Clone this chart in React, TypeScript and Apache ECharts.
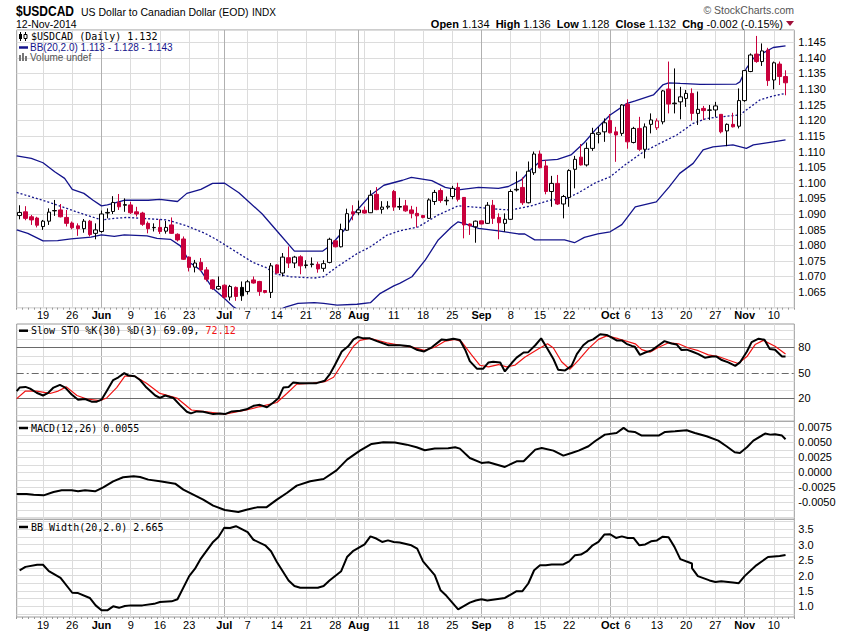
import { useEffect, useRef } from 'react'
import * as echarts from 'echarts'

// daily candles, 13-May-2014 .. 12-Nov-2014 (index 0 .. 131)
const opens = [
  1.0895, 1.0907, 1.0891, 1.0887, 1.0860, 1.0877, 1.0911, 1.0913, 1.0889, 1.0871,
  1.0862, 1.0853, 1.0877, 1.0838, 1.0844, 1.0903, 1.0908, 1.0937, 1.0928, 1.0929,
  1.0907, 1.0903, 1.0870, 1.0856, 1.0857, 1.0845, 1.0865, 1.0835, 1.0820, 1.0762,
  1.0730, 1.0745, 1.0721, 1.0689, 1.0660, 1.0672, 1.0634, 1.0665, 1.0665, 1.0652,
  1.0689, 1.0684, 1.0655, 1.0649, 1.0737, 1.0711, 1.0760, 1.0743, 1.0763, 1.0735,
  1.0738, 1.0739, 1.0726, 1.0745, 1.0814, 1.0795, 1.0848, 1.0907, 1.0904, 1.0912,
  1.0904, 1.0963, 1.0915, 1.0922, 1.0972, 1.0922, 1.0926, 1.0913, 1.0902, 1.0895,
  1.0886, 1.0940, 1.0975, 1.0942, 1.0956, 1.0985, 1.0953, 1.0868, 1.0859, 1.0878,
  1.0870, 1.0928, 1.0889, 1.0870, 1.0883, 1.0977, 1.0985, 1.0936, 1.1032, 1.1092,
  1.1054, 1.0972, 1.0998, 1.0932, 1.0953, 1.1043, 1.1082, 1.1057, 1.1110, 1.1155,
  1.1163, 1.1199, 1.1163, 1.1158, 1.1252, 1.1129, 1.1174, 1.1107, 1.1187, 1.1176,
  1.1195, 1.1300, 1.1253, 1.1259, 1.1270, 1.1286, 1.1222, 1.1238, 1.1232, 1.1233,
  1.1219, 1.1166, 1.1187, 1.1181, 1.1263, 1.1356, 1.1412, 1.1388, 1.1425, 1.1329,
  1.1380, 1.1340,
]
const highs = [
  1.0928, 1.0925, 1.0897, 1.0891, 1.0881, 1.0918, 1.0945, 1.0932, 1.0913, 1.0876,
  1.0870, 1.0884, 1.0881, 1.0870, 1.0911, 1.0918, 1.0957, 1.0964, 1.0950, 1.0939,
  1.0923, 1.0907, 1.0876, 1.0870, 1.0883, 1.0878, 1.0889, 1.0838, 1.0828, 1.0764,
  1.0753, 1.0759, 1.0730, 1.0691, 1.0700, 1.0675, 1.0673, 1.0668, 1.0684, 1.0689,
  1.0700, 1.0686, 1.0656, 1.0743, 1.0739, 1.0775, 1.0796, 1.0766, 1.0768, 1.0752,
  1.0761, 1.0747, 1.0752, 1.0824, 1.0815, 1.0869, 1.0917, 1.0928, 1.0943, 1.0924,
  1.0976, 1.0986, 1.0941, 1.0941, 1.0977, 1.0952, 1.0945, 1.0926, 1.0923, 1.0897,
  1.0950, 1.0977, 1.0982, 1.0956, 1.0990, 1.1000, 1.0953, 1.0870, 1.0879, 1.0879,
  1.0938, 1.0945, 1.0902, 1.0902, 1.0979, 1.1036, 1.1017, 1.1068, 1.1100, 1.1103,
  1.1073, 1.1022, 1.1025, 1.0961, 1.1043, 1.1086, 1.1124, 1.1129, 1.1176, 1.1179,
  1.1206, 1.1220, 1.1179, 1.1252, 1.1267, 1.1179, 1.1211, 1.1190, 1.1222, 1.1206,
  1.1297, 1.1388, 1.1366, 1.1307, 1.1297, 1.1302, 1.1292, 1.1246, 1.1249, 1.1259,
  1.1219, 1.1190, 1.1224, 1.1302, 1.1361, 1.1414, 1.1470, 1.1446, 1.1432, 1.1388,
  1.1388, 1.1360,
]
const lows = [
  1.0883, 1.0880, 1.0865, 1.0857, 1.0849, 1.0865, 1.0894, 1.0889, 1.0860, 1.0851,
  1.0830, 1.0840, 1.0828, 1.0819, 1.0840, 1.0886, 1.0900, 1.0913, 1.0907, 1.0900,
  1.0892, 1.0862, 1.0838, 1.0844, 1.0836, 1.0837, 1.0836, 1.0812, 1.0753, 1.0716,
  1.0713, 1.0717, 1.0684, 1.0657, 1.0657, 1.0628, 1.0623, 1.0622, 1.0622, 1.0642,
  1.0677, 1.0638, 1.0646, 1.0631, 1.0709, 1.0700, 1.0727, 1.0727, 1.0707, 1.0726,
  1.0729, 1.0712, 1.0715, 1.0742, 1.0793, 1.0793, 1.0846, 1.0880, 1.0896, 1.0901,
  1.0903, 1.0912, 1.0901, 1.0915, 1.0910, 1.0913, 1.0907, 1.0886, 1.0857, 1.0886,
  1.0884, 1.0929, 1.0936, 1.0928, 1.0947, 1.0940, 1.0822, 1.0833, 1.0808, 1.0867,
  1.0868, 1.0868, 1.0819, 1.0843, 1.0881, 1.0972, 1.0929, 1.0934, 1.1025, 1.1046,
  1.0963, 1.0923, 1.0929, 1.0886, 1.0923, 1.0982, 1.1055, 1.1052, 1.1102, 1.1126,
  1.1131, 1.1158, 1.1067, 1.1150, 1.1109, 1.1126, 1.1102, 1.1078, 1.1158, 1.1169,
  1.1187, 1.1222, 1.1222, 1.1203, 1.1243, 1.1199, 1.1185, 1.1201, 1.1201, 1.1211,
  1.1158, 1.1117, 1.1177, 1.1174, 1.1259, 1.1354, 1.1384, 1.1374, 1.1310, 1.1299,
  1.1313, 1.1280,
]
const closes = [
  1.0905, 1.0886, 1.0881, 1.0864, 1.0877, 1.0906, 1.0910, 1.0891, 1.0870, 1.0856,
  1.0853, 1.0877, 1.0834, 1.0849, 1.0900, 1.0905, 1.0937, 1.0923, 1.0930, 1.0904,
  1.0900, 1.0867, 1.0853, 1.0857, 1.0844, 1.0857, 1.0838, 1.0817, 1.0755, 1.0729,
  1.0743, 1.0721, 1.0691, 1.0661, 1.0668, 1.0634, 1.0668, 1.0636, 1.0638, 1.0683,
  1.0679, 1.0652, 1.0649, 1.0734, 1.0711, 1.0762, 1.0743, 1.0762, 1.0734, 1.0737,
  1.0740, 1.0724, 1.0741, 1.0819, 1.0795, 1.0850, 1.0901, 1.0900, 1.0913, 1.0903,
  1.0960, 1.0914, 1.0922, 1.0925, 1.0922, 1.0924, 1.0910, 1.0902, 1.0894, 1.0889,
  1.0945, 1.0969, 1.0943, 1.0944, 1.0982, 1.0947, 1.0865, 1.0862, 1.0877, 1.0868,
  1.0928, 1.0886, 1.0872, 1.0883, 1.0972, 1.0979, 1.0936, 1.1037, 1.1092, 1.1048,
  1.0972, 1.0998, 1.0932, 1.0956, 1.1039, 1.1075, 1.1057, 1.1110, 1.1158, 1.1160,
  1.1192, 1.1160, 1.1153, 1.1249, 1.1131, 1.1174, 1.1107, 1.1179, 1.1201, 1.1198,
  1.1294, 1.1252, 1.1255, 1.1275, 1.1286, 1.1222, 1.1235, 1.1231, 1.1233, 1.1246,
  1.1163, 1.1187, 1.1179, 1.1263, 1.1359, 1.1409, 1.1388, 1.1422, 1.1327, 1.1384,
  1.1340, 1.1320,
]

// date axis
const tickIdx = [4, 9, 14, 19, 24, 29, 35, 39, 44, 49, 54, 58, 64, 69, 74, 79, 84, 89, 94, 101, 104, 109, 114, 119, 124, 129]
const tickText = ['19', '26', 'Jun', '9', '16', '23', 'Jul', '7', '14', '21', '28', 'Aug', '11', '18', '25', 'Sep', '8', '15', '22', 'Oct', '6', '13', '20', '27', 'Nov', '10']
const monthNames = ['Jun', 'Jul', 'Aug', 'Sep', 'Oct', 'Nov']
const weekLines = [4, 9, 14, 19, 24, 29, 34, 39, 44, 49, 54, 59, 64, 69, 74, 79, 84, 89, 94, 99, 104, 109, 114, 119, 124, 129]
const monthLines = [14, 35, 58, 79, 101, 124]

// overlays / indicators, [day index, value]
const bbUpper = [
  [-0.5, 1.1086], [2, 1.1078], [4, 1.1064], [6, 1.1035], [7.7, 1.1014], [9, 1.0979], [11, 1.0966], [12.5, 1.0945],
  [14, 1.0926], [15, 1.0929], [16, 1.0934], [18, 1.0944], [22, 1.0944], [24, 1.0947], [27, 1.094], [28.6, 1.0966],
  [31, 1.0979], [33, 1.0998], [35, 1.0999], [37.5, 1.0968], [41.5, 1.09], [44.5, 1.0835], [47, 1.0781], [51.8, 1.0781],
  [53.2, 1.08], [55.5, 1.0848], [57.2, 1.0901], [60, 1.096], [62.3, 1.0992], [65.5, 1.1008], [67, 1.1017], [70.5, 1.1007],
  [72.8, 1.0985], [75, 1.0977], [78.5, 1.0985], [81.9, 1.0982], [83.6, 1.0988], [85.8, 1.1009], [87.5, 1.1043], [89.2, 1.1071],
  [92, 1.1075], [94.3, 1.1089], [96.6, 1.1129], [98.5, 1.117], [101, 1.1217], [103.9, 1.1254], [105.3, 1.1262], [108.4, 1.1281],
  [110, 1.1313], [111, 1.132], [113, 1.1318], [116.4, 1.1315], [122.6, 1.1316], [123.2, 1.1323], [124.3, 1.1366], [125.5, 1.1398],
  [127.2, 1.1416], [128.9, 1.1433], [131, 1.1438],
]
const bbMid = [
  [-0.5, 1.0969], [4.8, 1.0939], [10.5, 1.0902], [14, 1.0881], [16.2, 1.0886], [18.4, 1.0889], [21.8, 1.0885], [25.2, 1.0881],
  [28.6, 1.0862], [31.6, 1.0839], [33.6, 1.0819], [36.5, 1.0785], [39.9, 1.0745], [42.1, 1.0729], [43.8, 1.0708], [46.4, 1.0699],
  [50.4, 1.0695], [52, 1.0699], [54.3, 1.0731], [57.7, 1.0773], [60, 1.0795], [62.8, 1.0832], [65, 1.0846], [68.2, 1.0859],
  [71.6, 1.0897], [75, 1.0926], [78.5, 1.0921], [81.9, 1.0915], [84.1, 1.0913], [87.5, 1.0926], [90.9, 1.0945], [93.2, 1.0947],
  [95.4, 1.0966], [98.5, 1.1], [101, 1.1019], [103.9, 1.1062], [106.7, 1.1099], [109.5, 1.1126], [112.4, 1.1153], [115.2, 1.119],
  [117.5, 1.1206], [120.9, 1.1213], [123.2, 1.1217], [124.3, 1.1233], [126.6, 1.1265], [128.9, 1.1278], [131, 1.1286],
]
const bbLower = [
  [-0.5, 1.0849], [1.4, 1.0838], [4, 1.0814], [6.5, 1.0815], [8.8, 1.082], [12.2, 1.0826], [14, 1.0833], [16.2, 1.0828],
  [17.9, 1.0833], [21.8, 1.083], [23.5, 1.0822], [25.8, 1.0819], [27.5, 1.0798], [29.2, 1.0743], [30.9, 1.0721], [33, 1.0663],
  [35, 1.063], [36.5, 1.0604], [38, 1.0585], [41, 1.057], [43.5, 1.0585], [45.6, 1.0603], [47.6, 1.0614], [50.4, 1.0616],
  [52, 1.0614], [54.3, 1.0608], [57.7, 1.0611], [60, 1.0616], [61.7, 1.0646], [64, 1.067], [65, 1.0678], [67.1, 1.0699],
  [69.4, 1.0753], [71.6, 1.0817], [73.9, 1.0859], [75, 1.0875], [76.2, 1.0868], [78.5, 1.0854], [81.9, 1.0846], [85.3, 1.0836],
  [86.4, 1.0836], [88.1, 1.0817], [93.2, 1.0817], [94.9, 1.0808], [96.6, 1.0825], [98.9, 1.0836], [101, 1.0843], [103, 1.0866],
  [105.3, 1.0923], [108.9, 1.0939], [111.1, 1.0987], [112.9, 1.103], [115.2, 1.1062], [116.9, 1.1105], [118.6, 1.1115], [122, 1.1121],
  [124.3, 1.111], [125.5, 1.1121], [127.2, 1.1126], [128.9, 1.1131], [131, 1.1137],
]
const stoK = [
  [-0.5, 28.5], [0, 32.6], [1, 33.4], [1.8, 31.4], [2.9, 26.5], [4, 23.3], [4.9, 26.5], [5.8, 32.6], [6.9, 35.8], [7.8, 32.6],
  [8.9, 24.5], [10, 18.4], [11.2, 19.2], [12.3, 16], [13.2, 16], [14, 18.4], [14.9, 28.5], [16, 41.5], [16.9, 44.7], [17.9, 49.6],
  [18.6, 46.8], [19.7, 46], [20.6, 41.5], [21.7, 32.6], [23.2, 23.3], [24, 20.4], [24.9, 23.3], [26.3, 20.4], [27.4, 12.3], [28.6, 4.2],
  [29.3, 2.2], [30.3, 4.6], [31.4, 4.2], [33.1, 1.4], [34.3, 2.2], [35.1, 1.4], [36.3, 4.6], [37.7, 5.4], [38.8, 7], [40, 11.1],
  [41.1, 12.3], [42.3, 9.5], [43.4, 15.1], [44.3, 20.4], [45.1, 32.6], [46, 33.4], [46.8, 38.7], [47.9, 37.8], [50.8, 37.8], [52.2, 40.7],
  [53.1, 48.8], [53.9, 58.9], [55.1, 75.1], [56.2, 81.2], [57.1, 89.3], [57.9, 92.2], [58.8, 90.5], [59.9, 90.5], [61.1, 87.3], [63.1, 82.4],
  [65.1, 82.4], [66.8, 81.2], [67.9, 77.2], [69.2, 75.1], [70.5, 80], [72.2, 89.3], [73, 88.5], [74.2, 90.1], [75.3, 88.5], [76.2, 77.2],
  [77, 63.8], [78.2, 54.9], [79.3, 54.9], [80.2, 62.2], [81, 63], [82.2, 62.2], [83, 51.6], [84.2, 61.8], [85, 67.8], [86.2, 73.9],
  [87, 74.3], [88.2, 82.4], [89.2, 90.5], [90.2, 79.2], [91.3, 66.2], [92.1, 53.7], [93.3, 52.8], [94.4, 58.1], [95.3, 71.9], [96.4, 82.4],
  [97.3, 87.3], [98.1, 89.3], [99.3, 95.4], [100.4, 94.6], [101.3, 91.4], [102.1, 88.1], [103, 88.1], [103.8, 84.1], [104.7, 81.6], [105.2, 80.8],
  [106.1, 71.1], [107, 73.9], [108.1, 76.4], [109.3, 82.4], [110.3, 87.3], [111.5, 84.5], [112.4, 83.2], [113.2, 76.8], [114.1, 77.2], [115, 75.1],
  [116.1, 71.9], [117.2, 67.8], [118.4, 69.1], [119.2, 69.1], [120.1, 65], [121.2, 62.2], [122.4, 58.1], [123.2, 62.2], [124.4, 75.1], [125.2, 86.1],
  [126.4, 90.1], [127.4, 88.9], [128.3, 78], [129.2, 77.2], [130.4, 69.1], [131, 69.09],
]
const stoD = [
  [-0.5, 19.6], [1, 28.5], [2.9, 28.5], [5.2, 25.7], [6.6, 28.5], [8, 33.4], [9.8, 23.3], [11.5, 19.2], [13.7, 17.2], [14.9, 20.4],
  [16.6, 32.6], [18, 46], [19.7, 46], [21.7, 37.8], [24, 25.7], [26.9, 20.4], [29.4, 6.2], [32, 4.2], [35.1, 1.4], [38.8, 6.2],
  [41.1, 10.3], [44, 15.1], [45.7, 25.7], [47.4, 36.6], [50.2, 37.8], [52.2, 39.5], [53.7, 44.7], [55.4, 63], [57.1, 81.2], [58.2, 88.1],
  [59.9, 90.5], [62.8, 85.3], [65.1, 82.4], [67.3, 80], [69.2, 76.4], [71, 80], [72.8, 87.3], [74.5, 89.3], [75.6, 86.5], [77.3, 71.1],
  [78.7, 58.9], [80.2, 56.9], [81.9, 59.7], [83.3, 56.9], [84.7, 58.9], [86.4, 68.3], [88.7, 78], [90.3, 84.1], [91.3, 79.2], [92.7, 63],
  [94.1, 54.1], [95.6, 65], [97.3, 78.4], [99, 89.3], [100.4, 93.4], [102.4, 90.1], [105.3, 84.1], [106.4, 77.2], [107.8, 74.3], [109.3, 80],
  [111, 85.3], [112.7, 84.1], [114.4, 79.2], [116.1, 76], [117.8, 71.1], [119.5, 69.1], [121.2, 65], [122.9, 61], [124.4, 69.1], [125.8, 83.2],
  [127.2, 88.1], [129.2, 81.2], [131, 72.12],
]
const macd = [
  [-0.5, -0.00361], [1.2, -0.00361], [2.4, -0.00372], [4.1, -0.00384], [5.8, -0.00328], [7.2, -0.003], [8.9, -0.003], [10, -0.00317],
  [11.2, -0.003], [12.9, -0.00317], [14.3, -0.0025], [16, -0.0015], [17.7, -0.00083], [19.5, -0.00067], [20.6, -0.00078], [22, -0.00122],
  [24, -0.0015], [26.6, -0.00189], [28, -0.00289], [29.7, -0.00372], [31.4, -0.00456], [33.1, -0.00556], [35.1, -0.00628], [37.4, -0.00662],
  [38.8, -0.00623], [40.6, -0.00584], [42.2, -0.00584], [44, -0.00456], [45.7, -0.00345], [47.4, -0.00222], [49.7, -0.0015], [52, -0.00111],
  [54.2, 0.00033], [56, 0.00211], [58.2, 0.00361], [60.2, 0.00473], [62.2, 0.005], [64.2, 0.00495], [66.2, 0.00461], [67.9, 0.00417],
  [69.3, 0.00367], [71, 0.00395], [73.3, 0.004], [74.5, 0.00417], [75.3, 0.00395], [77, 0.00239], [79, 0.00156], [80.2, 0.00167],
  [83, 0.00089], [85, 0.00183], [86.2, 0.00183], [88.2, 0.00378], [89.3, 0.00406], [91.3, 0.00361], [93, 0.00278], [94.4, 0.00322],
  [95.6, 0.00361], [97.3, 0.00434], [98.4, 0.00517], [100.1, 0.00628], [102.1, 0.00656], [103.3, 0.0074], [104.1, 0.00684], [105.2, 0.00673],
  [106.4, 0.00612], [109.3, 0.00612], [110.4, 0.00673], [112.1, 0.00684], [114.1, 0.007], [115.5, 0.00656], [117.5, 0.006], [119.5, 0.00528],
  [120.9, 0.00434], [122.3, 0.00334], [123.2, 0.00322], [124.4, 0.00417], [125.5, 0.00528], [127.5, 0.00645], [128.4, 0.00628], [129.2, 0.00634],
  [130.4, 0.00612], [131, 0.0055],
]
const bbWidth = [
  [-0.5, 2.17], [1.2, 2.28], [2.9, 2.35], [3.8, 2.35], [5.2, 2.14], [6.9, 1.92], [8.9, 1.44], [10, 1.43], [11.8, 1.27], [12.9, 1.03],
  [13.7, 0.87], [14.9, 0.87], [15.8, 1.0], [16.9, 0.95], [18, 1.01], [18.9, 1.03], [21.2, 1.03], [22.9, 1.08], [24, 1.14], [25.7, 1.16],
  [26.9, 1.23], [29.1, 1.98], [30.3, 2.22], [31.4, 2.55], [33.1, 3.07], [34, 3.25], [35, 3.55], [36, 3.54], [37.1, 3.6], [38.8, 3.41],
  [40, 3.16], [41.7, 2.98], [42.8, 2.79], [44.3, 2.44], [46, 1.84], [46.8, 1.66], [48, 1.6], [51.4, 1.6], [52.2, 1.66], [53.1, 1.84],
  [54.8, 2.14], [56.2, 2.6], [57.4, 2.79], [58.8, 3.01], [60.2, 3.27], [61.1, 3.2], [61.9, 3.09], [63.1, 3.14], [63.9, 3.09], [65.1, 3.07],
  [66.5, 2.98], [67.6, 2.87], [69.3, 2.46], [71, 2.01], [72.2, 1.52], [73.3, 1.34], [74.2, 1.12], [75.2, 0.9], [76.5, 1.12], [77.9, 1.19],
  [79.3, 1.23], [80.3, 1.19], [82.9, 1.27], [84.2, 1.38], [85.3, 1.49], [86.4, 1.49], [87.3, 1.74], [88.2, 2.17], [89.3, 2.33], [90.4, 2.33],
  [91.3, 2.36], [93, 2.36], [94.1, 2.46], [95.3, 2.66], [96.1, 2.68], [97.3, 2.79], [98.1, 2.98], [99.3, 3.09], [100.1, 3.33], [100.9, 3.34],
  [102.4, 3.22], [103.3, 3.27], [104.4, 3.22], [105.3, 3.22], [106.2, 2.98], [107.3, 3.01], [108.1, 3.11], [109.3, 3.14], [110.4, 3.26], [111.2, 3.24],
  [112.1, 2.93], [113.2, 2.53], [114.7, 2.39], [115.2, 2.24], [116.4, 1.98], [117.5, 1.84], [119.2, 1.79], [120.1, 1.81], [121.5, 1.77], [123.2, 1.75],
  [124.4, 1.98], [125.5, 2.33], [126.3, 2.33], [127.5, 2.6], [128.3, 2.6], [129.8, 2.63], [131, 2.665],
]

// panel scales
const stoLines = [0, 10, 30, 40, 60, 70, 90, 100]
const stoLabels = ['80', '50', '20']
const macdLines = [-0.0075, -0.00625, -0.00375, -0.00125, 0.00125, 0.00375, 0.00625]
const macdLabels = [0.0075, 0.005, 0.0025, 0, -0.0025, -0.005]
const bbwLines = [0.75, 1.25, 1.75, 2.25, 2.75, 3.25, 3.75]
const bbwLabels = [3.5, 3.0, 2.5, 2.0, 1.5, 1.0]

const RED = '#c8003c'
const NAVY = '#14148c'
const GRID = '#dcdcdc'
const MONTH = '#b0b0b0'
const BORDER = '#9a9a9a'
const SANS = '"Liberation Sans", Arial, sans-serif'
const MONO = '"DejaVu Sans Mono", monospace'
const N = 133
const L = 16.7
const W = 777.6

function App() {
  const chartRef = useRef<HTMLDivElement>(null)

  useEffect(() => {
    if (!chartRef.current) return
    document.body.style.margin = '0'
    const chart = echarts.init(chartRef.current, null, { renderer: 'svg' })

    const cats = Array.from({ length: N }, (_, i) => String(i))
    const tickFmt = (_: string, i: number) => {
      const k = tickIdx.indexOf(i)
      if (k < 0) return ''
      const s = tickText[k]
      return monthNames.includes(s) ? `{m|${s}}` : s
    }

    const candles = opens.map((o, i) => {
      const c = closes[i]
      const red = i > 0 && c < closes[i - 1]
      const edge = red ? RED : '#000'
      const fill = c > o ? '#fff' : edge
      return {
        value: [o, c, lows[i], highs[i]],
        itemStyle: { color: fill, color0: fill, borderColor: edge, borderColor0: edge, borderWidth: 1 },
      }
    })

    const vLines = [
      ...weekLines.filter((x) => !monthLines.includes(x)).map((x) => ({ xAxis: x, lineStyle: { color: GRID, width: 1, type: 'solid' } })),
      ...monthLines.map((x) => ({ xAxis: x, lineStyle: { color: MONTH, width: 1, type: 'solid' } })),
    ]
    const hLine = (v: number, color: string, label?: string, type: any = 'solid') => ({
      yAxis: v,
      lineStyle: { color, width: 1, type },
      label: label
        ? { show: true, position: 'end', formatter: label, color: '#000', fontSize: 11, fontFamily: SANS, distance: 4 }
        : { show: false },
    })
    // panel p: value x axis p + 1, y axis p
    const layer = (p: number, h: any[]) => ({
      type: 'line',
      xAxisIndex: p + 1,
      yAxisIndex: p,
      data: [],
      z: 1,
      silent: true,
      markLine: {
        silent: true,
        symbol: ['none', 'none'],
        precision: 6,
        z: 1,
        animation: false,
        label: { show: false },
        data: [...vLines, ...h],
      },
    })
    const trace = (p: number, data: number[][], color: string, width: number, type: any = 'solid') => ({
      type: 'line',
      xAxisIndex: p + 1,
      yAxisIndex: p,
      data,
      showSymbol: false,
      symbol: 'none',
      silent: true,
      z: 3,
      lineStyle: { color, width, type },
    })

    const catAxis = (gridIndex: number) => ({
      type: 'category',
      gridIndex,
      position: 'bottom',
      data: cats,
      boundaryGap: true,
      axisLine: { show: false },
      axisTick: { show: true, interval: 0, length: 2, lineStyle: { color: '#999' } },
      axisLabel: {
        interval: 0,
        formatter: tickFmt,
        fontSize: 11,
        fontFamily: SANS,
        color: '#000',
        margin: 2,
        rich: { m: { fontWeight: 'bold', fontSize: 11, fontFamily: SANS } },
      },
      splitLine: { show: false },
    })
    const valAxis = (gridIndex: number) => ({ type: 'value', gridIndex, position: 'bottom', min: -0.5, max: N - 0.5, show: false })
    const hiddenY = (gridIndex: number, min: number, max: number) => ({
      type: 'value',
      gridIndex,
      min,
      max,
      position: 'right',
      axisLine: { show: false },
      axisTick: { show: false },
      axisLabel: { show: false },
      splitLine: { show: false },
    })

    const txt = (x: number, y: number, text: string, font: string, fill = '#000', align = 'left') => ({
      type: 'text',
      x,
      y,
      z: 100,
      silent: true,
      style: { text, font, fill, align, textAlign: align, verticalAlign: 'middle', textVerticalAlign: 'middle' },
    })
    const dash = (y: number, color: string) => ({
      type: 'line',
      z: 100,
      shape: { x1: 19, y1: y, x2: 28, y2: y },
      style: { stroke: color, lineWidth: 2.5 },
    })

    const option = {
      animation: false,
      backgroundColor: '#fff',
      grid: [
        { left: L, top: 30, width: W, height: 277.7 },
        { left: L, top: 324, width: W, height: 97.3 },
        { left: L, top: 421.3, width: W, height: 98 },
        { left: L, top: 519.3, width: W, height: 97.7 },
      ].map((g) => ({ ...g, show: true, borderColor: BORDER, borderWidth: 1, backgroundColor: '#fff' })),
      xAxis: [catAxis(0), valAxis(0), valAxis(1), valAxis(2), catAxis(3), valAxis(3)],
      yAxis: [
        {
          type: 'value',
          gridIndex: 0,
          position: 'right',
          min: 1.06,
          max: 1.1489,
          interval: 0.005,
          axisLine: { show: false },
          axisTick: { show: false },
          axisLabel: {
            margin: 4,
            fontSize: 11,
            fontFamily: SANS,
            color: '#000',
            formatter: (v: number) => (v > 1.0625 && v < 1.1475 ? v.toFixed(3) : ''),
          },
          splitLine: { show: true, lineStyle: { color: GRID, width: 1 } },
        },
        hiddenY(1, -7.06, 107.4),
        hiddenY(2, -0.00783, 0.0085),
        hiddenY(3, 0.6526, 3.8247),
      ],
      series: [
        layer(0, []),
        layer(1, [
          ...stoLines.map((v) => hLine(v, GRID)),
          hLine(80, '#6a6a6a', stoLabels[0]),
          hLine(50, '#6a6a6a', stoLabels[1], [7, 3, 2, 3]),
          hLine(20, '#6a6a6a', stoLabels[2]),
        ]),
        layer(2, [
          ...macdLines.map((v) => hLine(v, GRID)),
          ...macdLabels.map((v) => hLine(v, GRID, v.toFixed(4))),
        ]),
        layer(3, [
          ...bbwLines.map((v) => hLine(v, GRID)),
          ...bbwLabels.map((v) => hLine(v, GRID, v.toFixed(1))),
        ]),
        {
          type: 'candlestick',
          xAxisIndex: 0,
          yAxisIndex: 0,
          barWidth: 4,
          z: 4,
          silent: true,
          data: candles,
        },
        trace(0, bbUpper, NAVY, 1.3),
        trace(0, bbMid, NAVY, 1.3, [2, 2]),
        trace(0, bbLower, NAVY, 1.3),
        trace(1, stoD, '#f01414', 1.2),
        trace(1, stoK, '#000', 2),
        trace(2, macd, '#000', 2),
        trace(3, bbWidth, '#000', 2),
      ],
      graphic: [
        { ...txt(16, 11, '$USDCAD', `bold 15px ${SANS}`), scaleX: 0.8 },
        txt(81, 12, 'US Dollar to Canadian Dollar (EOD)', `10.5px ${SANS}`),
        txt(252, 12, 'INDX', `10px ${SANS}`),
        txt(16, 23.5, '12-Nov-2014', `10.5px ${SANS}`),
        txt(794, 10, '\u00a9 StockCharts.com', `10.5px ${SANS}`, '#555', 'right'),
        {
          type: 'text',
          x: 783,
          y: 23.5,
          z: 100,
          style: {
            text: '{b|Open} 1.134  {b|High} 1.136  {b|Low} 1.128  {b|Close} 1.132  {b|Chg} -0.002 (-0.15%)',
            font: `11px ${SANS}`,
            fill: '#000',
            align: 'right',
            textAlign: 'right',
            verticalAlign: 'middle',
            textVerticalAlign: 'middle',
            rich: { b: { font: `bold 11px ${SANS}`, fill: '#000' } },
          },
        },
        { type: 'polygon', z: 100, shape: { points: [[786, 21], [794, 21], [790, 26]] }, style: { fill: '#a0103a' } },
        // price legend
        { type: 'line', z: 100, shape: { x1: 20.5, y1: 32, x2: 20.5, y2: 41 }, style: { stroke: '#000', lineWidth: 1 } },
        { type: 'rect', z: 100, shape: { x: 19, y: 34, width: 3, height: 5 }, style: { fill: '#000' } },
        { type: 'line', z: 100, shape: { x1: 25.5, y1: 32, x2: 25.5, y2: 41 }, style: { stroke: '#000', lineWidth: 1 } },
        { type: 'rect', z: 101, shape: { x: 24, y: 34.5, width: 3, height: 4 }, style: { fill: '#fff', stroke: '#000', lineWidth: 1 } },
        txt(31, 36.5, '$USDCAD (Daily) 1.132', `10px ${MONO}`),
        dash(47.5, NAVY),
        txt(30, 47.5, 'BB(20,2.0) 1.113 - 1.128 - 1.143', `10px ${SANS}`, NAVY),
        { type: 'rect', z: 100, shape: { x: 19, y: 55, width: 2, height: 6 }, style: { fill: '#777' } },
        { type: 'rect', z: 100, shape: { x: 22, y: 53, width: 2, height: 8 }, style: { fill: '#777' } },
        { type: 'rect', z: 100, shape: { x: 25, y: 56, width: 2, height: 5 }, style: { fill: '#777' } },
        txt(30, 57.5, 'Volume undef', `10px ${SANS}`, '#555'),
        // indicator legends
        dash(330.7, '#000'),
        {
          type: 'text',
          x: 31,
          y: 330.7,
          z: 100,
          style: {
            text: '{k|Slow STO %K(30) %D(3) 69.09, }{r|72.12}',
            font: `10px ${MONO}`,
            fill: '#000',
            verticalAlign: 'middle',
            textVerticalAlign: 'middle',
            rich: {
              k: { font: `10px ${MONO}`, fill: '#000', color: '#000' },
              r: { font: `10px ${MONO}`, fill: '#f01414', color: '#f01414' },
            },
          },
        },
        dash(428, '#000'),
        txt(31, 428, 'MACD(12,26) 0.0055', `10px ${MONO}`),
        dash(527, '#000'),
        txt(31, 527, 'BB Width(20,2.0) 2.665', `10px ${MONO}`),
      ],
    }

    chart.setOption(option as any)
    return () => {
      chart.dispose()
    }
  }, [])

  return <div ref={chartRef} style={{ position: 'absolute', left: 0, top: 0, width: '850px', height: '633px' }}></div>
}

export default App
